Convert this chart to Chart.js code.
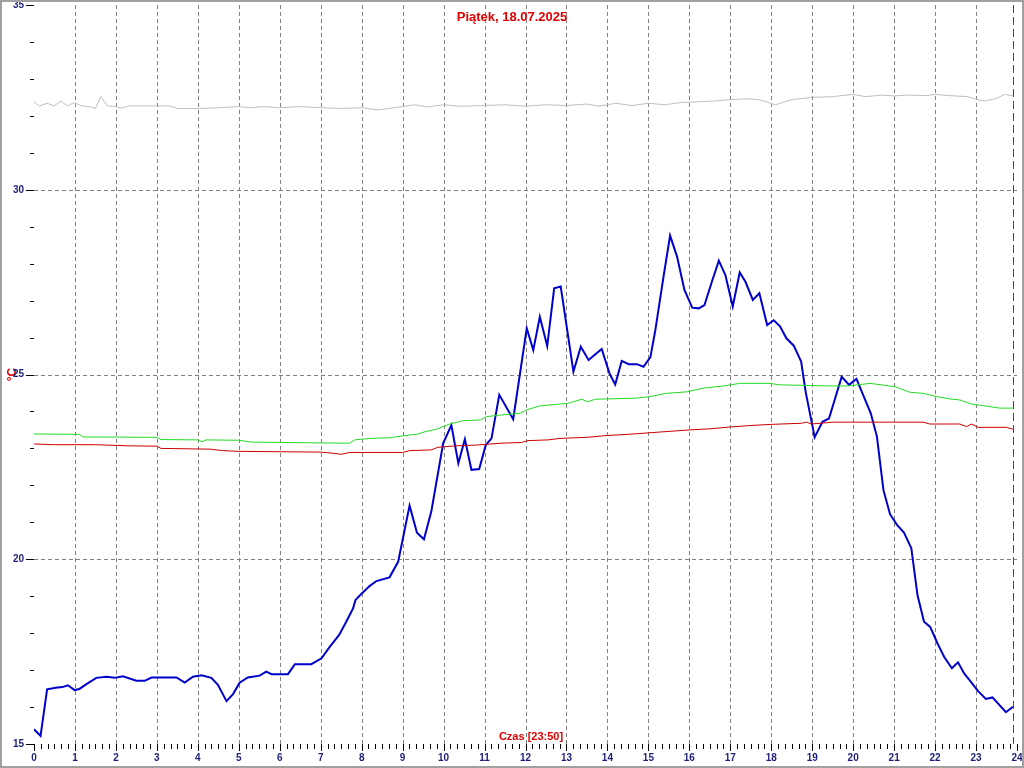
<!DOCTYPE html>
<html>
<head>
<meta charset="utf-8">
<title>Piątek, 18.07.2025</title>
<script src="https://cdn.jsdelivr.net/npm/chart.js@4.4.1/dist/chart.umd.min.js"></script>
<style>
  html, body { margin: 0; padding: 0; background: #fff; }
</style>
</head>
<body>
<canvas id="wykres" width="1024" height="768"></canvas>
<script>
// godziny (0-24) i temperatury
var niebieskiGodz = [0.00,0.16,0.32,0.53,0.69,0.83,0.99,1.11,1.28,1.52,1.77,1.97,2.17,2.50,2.70,2.87,3.48,3.68,3.88,4.09,
  4.33,4.49,4.70,4.86,5.02,5.22,5.51,5.67,5.80,6.20,6.37,6.77,7.02,7.22,7.45,7.62,7.79,7.85,7.99,8.20,
  8.36,8.68,8.89,9.17,9.35,9.52,9.70,9.99,10.19,10.36,10.52,10.68,10.87,11.03,11.17,11.36,11.70,12.03,12.19,12.35,
  12.53,12.70,12.86,13.17,13.35,13.54,13.86,14.05,14.19,14.35,14.52,14.72,14.88,15.05,15.17,15.37,15.53,15.70,15.88,16.07,
  16.23,16.37,16.55,16.72,16.88,17.06,17.23,17.37,17.55,17.71,17.90,18.06,18.21,18.37,18.55,18.73,18.84,19.06,19.25,19.41,
  19.72,19.90,20.08,20.26,20.43,20.58,20.74,20.90,21.07,21.24,21.42,21.57,21.73,21.88,22.06,22.22,22.41,22.56,22.71,22.87,
  23.05,23.24,23.40,23.73,23.90];
var niebieskiTemp = [15.40,15.22,16.48,16.52,16.54,16.59,16.46,16.49,16.62,16.79,16.82,16.79,16.83,16.71,16.71,16.80,16.80,16.66,16.82,16.86,
  16.79,16.60,16.16,16.35,16.66,16.80,16.85,16.96,16.89,16.89,17.16,17.16,17.32,17.63,17.95,18.30,18.67,18.90,19.06,19.28,
  19.41,19.51,19.93,21.45,20.72,20.54,21.29,23.14,23.63,22.60,23.25,22.42,22.44,23.09,23.27,24.45,23.79,26.25,25.66,26.56,
  25.77,27.33,27.38,25.08,25.75,25.39,25.69,25.03,24.73,25.37,25.28,25.28,25.21,25.47,26.20,27.65,28.76,28.19,27.29,26.81,
  26.79,26.88,27.51,28.08,27.69,26.84,27.76,27.51,27.02,27.20,26.34,26.47,26.31,25.98,25.78,25.35,24.53,23.30,23.72,23.81,
  24.94,24.72,24.88,24.40,23.95,23.32,21.87,21.22,20.93,20.72,20.30,19.03,18.31,18.17,17.72,17.36,17.05,17.21,16.91,16.69,
  16.43,16.22,16.26,15.86,16.01];

var zielonyGodz = [0,1.1,1.2,3.0,3.1,4.0,4.1,4.2,5.0,5.3,7.7,7.83,8.2,8.7,9.0,9.38,9.54,9.83,10.15,10.48,
  10.9,11.05,11.37,11.86,12.02,12.35,12.84,13.04,13.37,13.53,13.69,14.71,15.03,15.44,15.93,16.34,16.83,17.23,17.97,18.21,
  19.43,19.88,20.41,21.02,21.38,21.71,22.04,22.36,22.61,22.89,23.09,23.58,23.90];
var zielonyTemp = [23.39,23.38,23.31,23.30,23.24,23.23,23.18,23.23,23.22,23.17,23.14,23.23,23.27,23.29,23.34,23.39,23.45,23.52,23.66,23.75,
  23.77,23.86,23.90,23.95,24.04,24.15,24.20,24.22,24.33,24.26,24.33,24.36,24.40,24.49,24.53,24.63,24.69,24.76,24.76,24.72,
  24.69,24.69,24.76,24.67,24.52,24.49,24.40,24.34,24.31,24.20,24.17,24.09,24.09];

var czerwonyGodz = [0,0.5,1.5,2.3,3.0,3.1,4.3,4.6,5.0,7.0,7.3,7.5,7.7,9.0,9.17,9.7,9.86,10.3,10.8,11.4,
  11.9,12.06,12.55,12.84,13.5,14.0,14.5,15.0,15.5,16.0,16.5,17.0,17.5,18.0,18.74,18.86,18.98,19.51,21.71,21.87,
  22.6,22.77,22.89,23.05,23.74,23.90];
var czerwonyTemp = [23.12,23.10,23.10,23.07,23.06,23.00,22.98,22.94,22.92,22.90,22.87,22.84,22.89,22.89,22.94,22.96,23.03,23.07,23.09,23.14,
  23.16,23.21,23.23,23.27,23.30,23.35,23.38,23.42,23.46,23.50,23.53,23.58,23.62,23.65,23.68,23.71,23.66,23.71,23.71,23.66,
  23.66,23.59,23.66,23.57,23.57,23.52];

var szaryGodz = [0,0.13,0.32,0.49,0.66,0.81,0.98,1.16,1.35,1.50,1.63,1.79,2.00,2.15,2.32,3.30,3.50,4.04,4.50,5.00,
  5.30,5.60,6.00,6.50,7.00,7.50,8.00,8.40,9.00,9.30,9.60,10.00,10.40,11.00,11.50,12.00,12.50,13.00,13.50,13.80,
  14.20,14.60,15.00,15.40,15.80,16.20,16.60,17.00,17.40,17.70,18.10,18.50,19.00,19.50,20.00,20.30,20.70,21.00,21.30,21.80,
  22.00,22.30,22.80,23.00,23.20,23.50,23.70,23.90];
var szaryTemp = [32.38,32.27,32.34,32.27,32.40,32.27,32.36,32.27,32.25,32.20,32.52,32.27,32.25,32.21,32.27,32.27,32.20,32.20,32.22,32.25,
  32.22,32.25,32.22,32.25,32.22,32.20,32.22,32.16,32.25,32.30,32.24,32.30,32.26,32.28,32.30,32.26,32.30,32.28,32.32,32.26,
  32.34,32.28,32.34,32.30,32.36,32.38,32.40,32.44,32.46,32.44,32.30,32.44,32.50,32.52,32.58,32.52,32.56,32.54,32.56,32.55,
  32.58,32.55,32.52,32.45,32.40,32.47,32.58,32.54];

var tytul = 'Piątek, 18.07.2025';
var podpisCzas = 'Czas [23:50]';
var teraz = 23.90;           // pionowa zielona linia
var liniePoziome = [20, 25, 30];

const punkty = (godz, temp) => godz.map((g, i) => ({ x: g, y: temp[i] }))

const FONT = "'Liberation Sans', Arial, sans-serif"
const GRANAT = '#1e1e78'

const dodatki = {
  id: 'dodatki',
  beforeDraw(chart) {
    const ctx = chart.ctx
    ctx.save()
    ctx.fillStyle = '#fff'
    ctx.fillRect(0, 0, chart.width, chart.height)
    ctx.restore()
  },
  beforeDatasetsDraw(chart) {
    const { ctx, chartArea: a } = chart
    const x = chart.scales.x, y = chart.scales.y
    ctx.save()
    ctx.strokeStyle = '#808080'
    ctx.lineWidth = 1
    ctx.setLineDash([4, 3])
    for (let h = 1; h < 24; h++) {
      const px = Math.round(x.getPixelForValue(h)) + 0.5
      ctx.beginPath(); ctx.moveTo(px, a.top); ctx.lineTo(px, a.bottom); ctx.stroke()
    }
    liniePoziome.forEach(v => {
      const py = Math.round(y.getPixelForValue(v)) + 0.5
      ctx.beginPath(); ctx.moveTo(a.left, py); ctx.lineTo(a.right, py); ctx.stroke()
    })
    ctx.restore()
  },
  afterDraw(chart) {
    const { ctx, chartArea: a } = chart
    const x = chart.scales.x, y = chart.scales.y
    ctx.save()
    // kreski osi Y
    ctx.strokeStyle = '#000'
    ctx.lineWidth = 1
    for (let v = 15; v <= 35; v++) {
      const py = Math.round(y.getPixelForValue(v)) + 0.5
      const x0 = v % 5 === 0 ? 26 : 30
      ctx.beginPath(); ctx.moveTo(x0, py); ctx.lineTo(34, py); ctx.stroke()
    }
    // kreski osi X co 10 minut
    for (let i = 0; i <= 144; i++) {
      const px = Math.round(x.getPixelForValue(i / 6)) + 0.5
      const dl = i % 6 === 0 ? 7 : 5
      ctx.beginPath(); ctx.moveTo(px, a.bottom); ctx.lineTo(px, a.bottom + dl); ctx.stroke()
    }
    // aktualny czas
    const pt = Math.round(x.getPixelForValue(teraz)) + 0.5
    ctx.strokeStyle = '#008000'
    ctx.setLineDash([8, 4])
    ctx.beginPath(); ctx.moveTo(pt, a.top); ctx.lineTo(pt, a.bottom); ctx.stroke()
    ctx.setLineDash([])
    // napisy
    ctx.fillStyle = '#e00000'
    ctx.textAlign = 'center'
    ctx.textBaseline = 'middle'
    ctx.font = 'bold 13px ' + FONT
    ctx.fillText(tytul, 512, 17)
    ctx.font = 'bold 11px ' + FONT
    ctx.fillText(podpisCzas, 531, 737)
    // ramka
    ctx.strokeStyle = '#a0a0a0'
    ctx.lineWidth = 2
    ctx.strokeRect(1, 1, chart.width - 2, chart.height - 2)
    ctx.restore()
  }
}

const linia = (dane, kolor, grubosc) => ({
  data: dane,
  borderColor: kolor,
  borderWidth: grubosc,
  pointRadius: 0,
  tension: 0,
  fill: false
})

new Chart(document.getElementById('wykres'), {
  type: 'line',
  data: {
    datasets: [
      linia(punkty(szaryGodz, szaryTemp), '#c0c0c0', 1),
      linia(punkty(czerwonyGodz, czerwonyTemp), '#cc0000', 1),
      linia(punkty(zielonyGodz, zielonyTemp), '#22dd22', 1),
      linia(punkty(niebieskiGodz, niebieskiTemp), '#0000cc', 2)
    ]
  },
  options: {
    responsive: false,
    animation: false,
    layout: { padding: { top: 5, right: 7, left: 0, bottom: 0 } },
    plugins: { legend: { display: false }, tooltip: { enabled: false } },
    scales: {
      x: {
        type: 'linear',
        min: 0, max: 24,
        grid: { display: false, drawTicks: true, tickLength: 5 },
        border: { display: false },
        ticks: {
          stepSize: 1, autoSkip: false, maxRotation: 0, padding: 4,
          color: GRANAT, font: { family: FONT, size: 10, weight: 'bold', lineHeight: 1 }
        },
        afterFit: s => { s.height = 24; s.paddingLeft = 0; s.paddingRight = 0 }
      },
      y: {
        min: 15, max: 35,
        grid: { display: false, drawTicks: true, tickLength: 10 },
        border: { display: false },
        title: {
          display: true, text: '°C', color: '#e00000',
          font: { family: FONT, size: 12, weight: 'bold' },
          padding: { top: 5, bottom: 0 }
        },
        ticks: {
          stepSize: 5, autoSkip: false, padding: 0,
          color: GRANAT, font: { family: FONT, size: 10, weight: 'bold', lineHeight: 1 }
        },
        afterFit: s => { s.width = 34; s.paddingTop = 0; s.paddingBottom = 0 }
      }
    }
  },
  plugins: [dodatki]
})
</script>
</body>
</html>
